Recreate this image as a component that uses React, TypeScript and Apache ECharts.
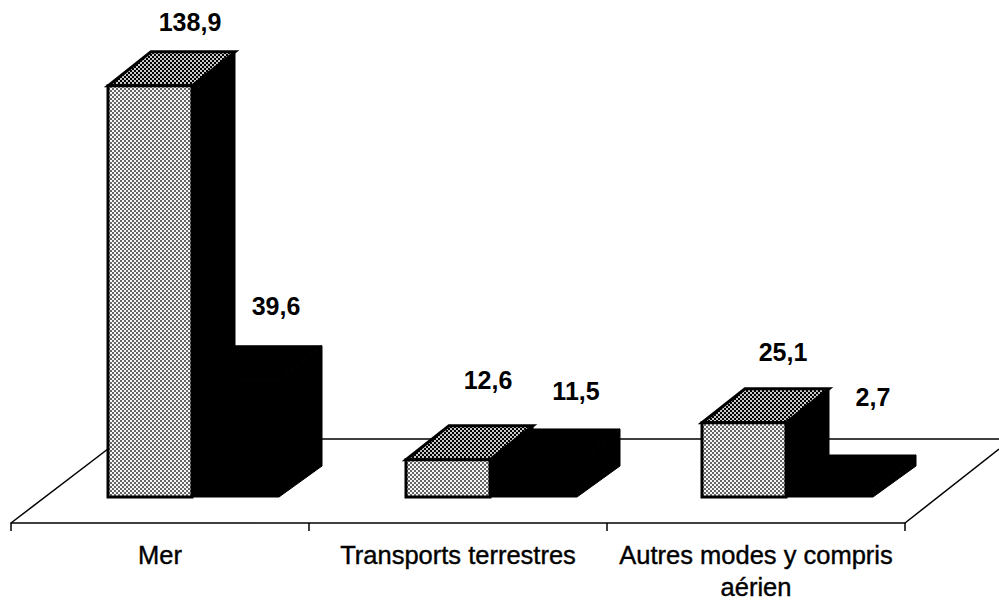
import React, { useEffect, useRef } from "react";
import * as echarts from "echarts";

const categories = ["Mer", "Transports terrestres", "Autres modes y compris\naérien"];
const seriesA = [138.9, 12.6, 25.1];
const seriesB = [39.6, 11.5, 2.7];
const labelsA = ["138,9", "12,6", "25,1"];
const labelsB = ["39,6", "11,5", "2,7"];

const DEPTH_X = 43;
const DEPTH_Y = 34;
const DEPTH_Y_BOTTOM = 31;
const START = -52;
const W_A = 84;
const W_B = 87;
const NUDGE = [0, 0, -2];
const LABEL_RISE_A = [30, 46, 37];
const LABEL_RISE_B = [40, 38, 58];
const LABEL_X_A = [82, 82, 81];
const LABEL_X_B = [84, 86, 87];
const LABEL_FONT = { fontFamily: "Liberation Sans", fontWeight: "bold", fontSize: 25 };

function halftone(period: number, dot: number, bg: string, fg: string) {
  const c = document.createElement("canvas");
  c.width = period;
  c.height = period;
  const x = c.getContext("2d")!;
  x.fillStyle = bg;
  x.fillRect(0, 0, period, period);
  x.fillStyle = fg;
  x.fillRect(0, 0, dot, dot);
  x.fillRect(period / 2, period / 2, dot, dot);
  return c;
}

function poly(points: number[][], style: any) {
  return { type: "polygon", shape: { points }, style };
}

export default function App() {
  const ref = useRef<HTMLDivElement>(null);
  useEffect(() => {
    document.body.style.margin = "0";
    document.body.style.background = "#fff";
    const chart = echarts.init(ref.current!, undefined, { renderer: "svg" });
    const frontFill = { image: halftone(4, 2, "#f6f6f6", "#666"), repeat: "repeat" };
    const topFill = { image: halftone(4, 2, "#c8c8c8", "#000"), repeat: "repeat" };

    const renderBar = (isA: boolean, labels: string[]) => (params: any, api: any) => {
      const i = params.dataIndex;
      const p = api.coord([api.value(0), api.value(1)]);
      const base = api.coord([api.value(0), 0]);
      const left = p[0] + START + NUDGE[i] + (isA ? 0 : W_A);
      const w = isA ? W_A : W_B;
      const right = left + w;
      const top = p[1];
      const bot = base[1];
      const black = { fill: "#000", stroke: "#000", lineWidth: 1 };
      const outline = { stroke: "#000", lineWidth: 3 };
      return {
        type: "group",
        children: [
          poly(
            [[left, top], [left + DEPTH_X, top - DEPTH_Y], [right + DEPTH_X, top - DEPTH_Y], [right, top]],
            isA ? { fill: topFill, ...outline } : black
          ),
          poly(
            [[right, top], [right + DEPTH_X, top - DEPTH_Y], [right + DEPTH_X, bot - DEPTH_Y_BOTTOM], [right, bot]],
            black
          ),
          poly(
            [[left, top], [right, top], [right, bot], [left, bot]],
            isA ? { fill: frontFill, ...outline } : black
          ),
          {
            type: "text",
            style: {
              x: left + (isA ? LABEL_X_A[i] : LABEL_X_B[i]),
              y: top - DEPTH_Y - (isA ? LABEL_RISE_A[i] : LABEL_RISE_B[i]),
              text: labels[i],
              align: "center",
              verticalAlign: "middle",
              fill: "#000",
              ...LABEL_FONT,
            },
          },
        ],
      };
    };

    const lineStyle = { stroke: "#000", lineWidth: 1.5 };
    chart.setOption({
      animation: false,
      backgroundColor: "#fff",
      grid: { left: 11, width: 894, top: 23.4, height: 473.6, outerBoundsMode: "none" },
      xAxis: {
        type: "category",
        data: categories,
        offset: 26,
        boundaryGap: true,
        axisLine: { onZero: false, lineStyle: { color: "#000", width: 1.5 } },
        axisTick: { show: true, interval: 0, length: 8, lineStyle: { color: "#000", width: 1.5 } },
        axisLabel: {
          interval: 0,
          margin: 16,
          color: "#000",
          fontFamily: "Liberation Sans",
          fontSize: 25.5,
          lineHeight: 32,
          textBorderColor: "#000",
          textBorderWidth: 0.4,
        },
      },
      yAxis: { type: "value", min: 0, max: 160, show: false },
      graphic: [
        { type: "line", z: -1, shape: { x1: 11, y1: 523, x2: 121, y2: 439 }, style: lineStyle },
        { type: "line", z: -1, shape: { x1: 121, y1: 439, x2: 999, y2: 439 }, style: lineStyle },
        { type: "line", z: -1, shape: { x1: 905, y1: 523, x2: 999, y2: 449 }, style: lineStyle },
      ],
      series: [
        {
          type: "custom",
          clip: false,
          data: seriesA.map((v, i) => [i, v]),
          renderItem: renderBar(true, labelsA),
        },
        {
          type: "custom",
          clip: false,
          data: seriesB.map((v, i) => [i, v]),
          renderItem: renderBar(false, labelsB),
        },
      ],
    });
    return () => chart.dispose();
  }, []);
  return <div ref={ref} style={{ width: 999, height: 601 }} />;
}
